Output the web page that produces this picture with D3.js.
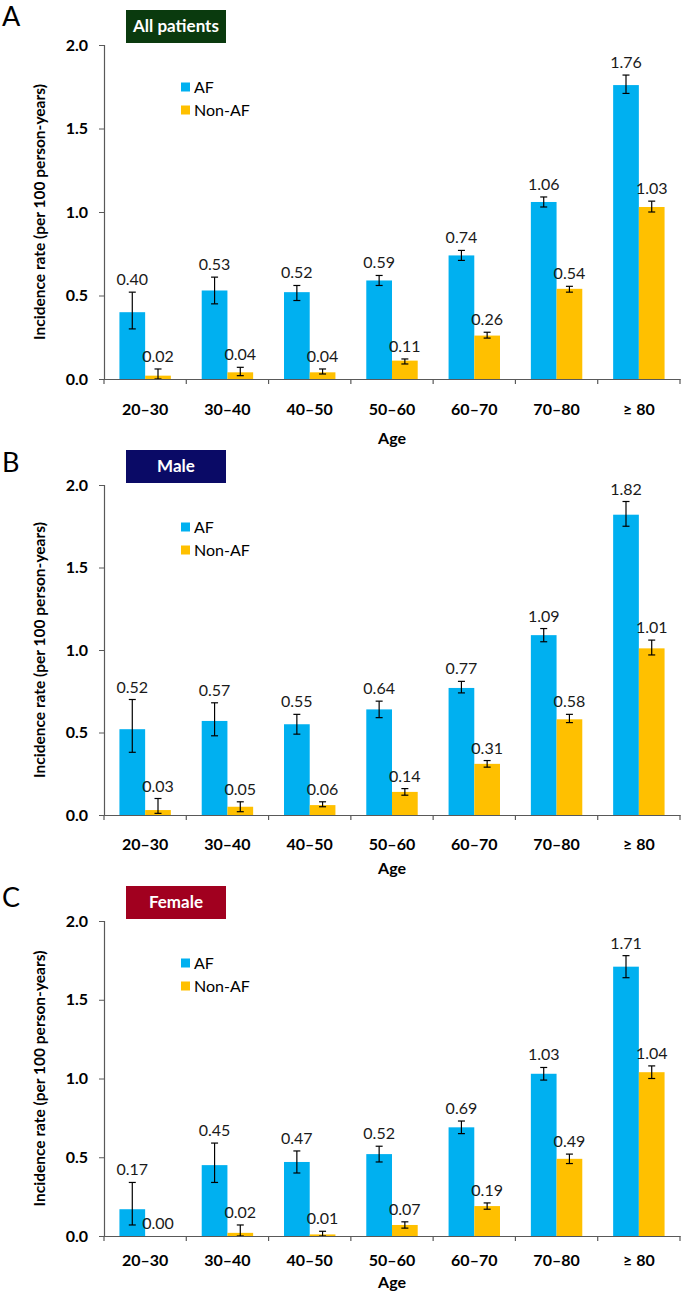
<!DOCTYPE html>
<html>
<head>
<meta charset="utf-8">
<script src="https://cdn.jsdelivr.net/npm/d3@7"></script>
<style>
  body { margin: 0; background: #fff; }
  svg { display: block; font-family: Lato, "Open Sans", sans-serif; }
</style>
</head>
<body>
<div id="chart"></div>
<script>
// age groups on the x axis
const ageGroups = ["20–30", "30–40", "40–50", "50–60", "60–70", "70–80", "≥ 80"];
const seriesNames = ["AF", "Non-AF"];
const yTicks = [0, 0.5, 1.0, 1.5, 2.0];

// All patients
const allAF = [0.40, 0.53, 0.52, 0.59, 0.74, 1.06, 1.76];
const allAFci = [[0.30, 0.52], [0.45, 0.61], [0.47, 0.56], [0.56, 0.62], [0.71, 0.77], [1.03, 1.09], [1.71, 1.82]];
const allNon = [0.02, 0.04, 0.04, 0.11, 0.26, 0.54, 1.03];
const allNonCi = [[0.00, 0.06], [0.02, 0.07], [0.03, 0.06], [0.09, 0.12], [0.245, 0.28], [0.52, 0.555], [1.00, 1.065]];

// Male
const maleAF = [0.52, 0.57, 0.55, 0.64, 0.77, 1.09, 1.82];
const maleAFci = [[0.38, 0.70], [0.48, 0.68], [0.49, 0.61], [0.59, 0.69], [0.74, 0.81], [1.05, 1.13], [1.75, 1.90]];
const maleNon = [0.03, 0.05, 0.06, 0.14, 0.31, 0.58, 1.01];
const maleNonCi = [[0.01, 0.10], [0.02, 0.08], [0.05, 0.08], [0.12, 0.16], [0.29, 0.33], [0.56, 0.61], [0.97, 1.06]];

// Female
const femAF = [0.17, 0.45, 0.47, 0.52, 0.69, 1.03, 1.71];
const femAFci = [[0.07, 0.34], [0.34, 0.59], [0.40, 0.54], [0.47, 0.57], [0.65, 0.73], [0.99, 1.07], [1.64, 1.78]];
const femNon = [0.00, 0.02, 0.01, 0.07, 0.19, 0.49, 1.04];
const femNonCi = [null, [0.00, 0.07], [0.00, 0.03], [0.05, 0.09], [0.17, 0.21], [0.46, 0.52], [1.00, 1.08]];

const colors = { "AF": "#00b0f0", "Non-AF": "#ffc000" };

const W = 685, H = 1293;
const svg = d3.select("#chart").append("svg")
    .attr("width", W)
    .attr("height", H);

// 面板布局
const panels = [
    { letter: "A", title: "All patients", boxColor: "#0a3a0e", af: allAF, afCi: allAFci, non: allNon, nonCi: allNonCi,
      yTop: 45, yBottom: 379, letterY: 17, labelGap: 30, ageGap: 59 },
    { letter: "B", title: "Male", boxColor: "#0a0a66", af: maleAF, afCi: maleAFci, non: maleNon, nonCi: maleNonCi,
      yTop: 485, yBottom: 815, letterY: 463, labelGap: 29, ageGap: 53 },
    { letter: "C", title: "Female", boxColor: "#a1001f", af: femAF, afCi: femAFci, non: femNon, nonCi: femNonCi,
      yTop: 921, yBottom: 1236, letterY: 898, labelGap: 24, ageGap: 46 }
];

const x = d3.scaleBand()
    .domain(ageGroups)
    .range([104, 680])
    .padding(0);

const xs = d3.scaleBand()
    .domain(seriesNames)
    .range([0, x.bandwidth()])
    .paddingInner(0)
    .paddingOuter(0.6);

panels.forEach(p => {
    const g = svg.append("g");
    const y = d3.scaleLinear().domain([0, 2]).range([p.yBottom, p.yTop]);

    // panel letter
    g.append("text")
        .attr("x", 2)
        .attr("y", p.letterY)
        .attr("dy", "0.35em")
        .attr("font-size", 27)
        .attr("fill", "#000")
        .text(p.letter);

    // title box
    g.append("rect")
        .attr("x", 126)
        .attr("y", p.yTop - 35)
        .attr("width", 100)
        .attr("height", 33)
        .attr("fill", p.boxColor);
    g.append("text")
        .attr("x", 176)
        .attr("y", p.yTop - 18.5)
        .attr("dy", "0.35em")
        .attr("text-anchor", "middle")
        .attr("font-size", 17)
        .attr("font-weight", "bold")
        .attr("fill", "#fff")
        .text(p.title);

    // y axis
    const yAxis = g.append("g")
        .attr("transform", `translate(${x.range()[0]},0)`)
        .call(d3.axisLeft(y).tickValues(yTicks).tickFormat(d3.format(".1f")).tickSize(5).tickPadding(11));
    yAxis.select(".domain").attr("stroke", "#595959").attr("stroke-width", 1.2);
    yAxis.selectAll(".tick line").attr("stroke", "#595959");
    yAxis.selectAll(".tick text")
        .attr("font-size", 16)
        .attr("font-weight", "bold")
        .attr("fill", "#000")
        .attr("font-family", "Lato, sans-serif");

    // bars
    const rows = [];
    ageGroups.forEach((a, i) => {
        rows.push({ age: a, s: "AF", v: p.af[i], ci: p.afCi[i] });
        rows.push({ age: a, s: "Non-AF", v: p.non[i], ci: p.nonCi[i] });
    });

    g.selectAll(".bar")
        .data(rows.filter(d => d.v > 0))
        .join("rect")
        .attr("class", "bar")
        .attr("x", d => x(d.age) + xs(d.s))
        .attr("y", d => y(d.v))
        .attr("width", xs.bandwidth())
        .attr("height", d => y(0) - y(d.v))
        .attr("fill", d => colors[d.s]);

    // error bars
    const eb = g.selectAll(".err")
        .data(rows.filter(d => d.ci))
        .join("g")
        .attr("class", "err")
        .attr("transform", d => `translate(${x(d.age) + xs(d.s) + xs.bandwidth() / 2},0)`)
        .attr("stroke", "#000")
        .attr("stroke-width", 1.2);
    eb.append("line").attr("y1", d => y(d.ci[0])).attr("y2", d => y(d.ci[1]));
    eb.append("line").attr("x1", -3.5).attr("x2", 3.5).attr("y1", d => y(d.ci[0])).attr("y2", d => y(d.ci[0]));
    eb.append("line").attr("x1", -3.5).attr("x2", 3.5).attr("y1", d => y(d.ci[1])).attr("y2", d => y(d.ci[1]));

    // value labels
    g.selectAll(".val")
        .data(rows)
        .join("text")
        .attr("class", "val")
        .attr("x", d => x(d.age) + xs(d.s) + xs.bandwidth() / 2)
        .attr("y", d => y(d.ci ? d.ci[1] : d.v) - 7)
        .attr("text-anchor", "middle")
        .attr("font-size", 16)
        .attr("fill", "#1a1a1a")
        .text(d => d.v.toFixed(2));

    // x axis
    const xAxis = g.append("g")
        .attr("transform", `translate(0,${p.yBottom})`)
        .call(d3.axisBottom(x).tickSize(0).tickFormat(""));
    xAxis.select(".domain").attr("stroke", "#595959").attr("stroke-width", 1.2);
    g.selectAll(".xtick")
        .data(d3.range(ageGroups.length + 1))
        .join("line")
        .attr("class", "xtick")
        .attr("x1", i => x.range()[0] + i * x.step())
        .attr("x2", i => x.range()[0] + i * x.step())
        .attr("y1", p.yBottom)
        .attr("y2", p.yBottom + 5)
        .attr("stroke", "#595959")
        .attr("stroke-width", 1.2);
    g.selectAll(".xlab")
        .data(ageGroups)
        .join("text")
        .attr("class", "xlab")
        .attr("x", d => x(d) + x.bandwidth() / 2)
        .attr("y", p.yBottom + p.labelGap)
        .attr("dy", "0.35em")
        .attr("text-anchor", "middle")
        .attr("font-size", 16)
        .attr("font-weight", "bold")
        .text(d => d);

    g.append("text")
        .attr("x", (x.range()[0] + x.range()[1]) / 2)
        .attr("y", p.yBottom + p.ageGap)
        .attr("dy", "0.35em")
        .attr("text-anchor", "middle")
        .attr("font-size", 16)
        .attr("font-weight", "bold")
        .text("Age");

    g.append("text")
        .attr("transform", `translate(40,${(p.yTop + p.yBottom) / 2}) rotate(-90)`)
        .attr("dy", "0.35em")
        .attr("text-anchor", "middle")
        .attr("font-size", 15.5)
        .attr("font-weight", "bold")
        .text("Incidence rate (per 100 person-years)");

    // legend
    const lg = g.append("g").attr("transform", `translate(181,${p.yTop + 42})`);
    seriesNames.forEach((s, i) => {
        lg.append("rect")
            .attr("x", 0)
            .attr("y", i * 23 - 4.5)
            .attr("width", 9)
            .attr("height", 9)
            .attr("fill", colors[s]);
        lg.append("text")
            .attr("x", 13)
            .attr("y", i * 23)
            .attr("dy", "0.35em")
            .attr("font-size", 16)
            .text(s);
    });
});
</script>
</body>
</html>
